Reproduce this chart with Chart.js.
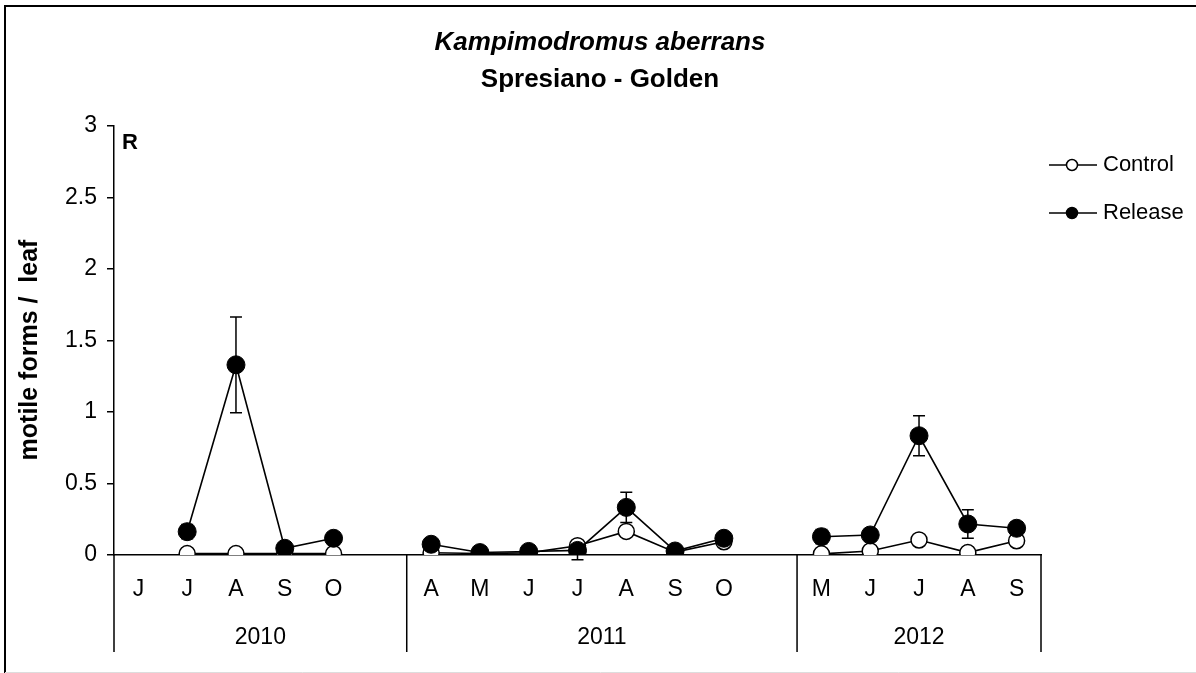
<!DOCTYPE html>
<html><head><meta charset="utf-8">
<script src="https://cdn.jsdelivr.net/npm/chart.js@4.4.0/dist/chart.umd.min.js"></script>
<style>html,body{margin:0;padding:0;background:#fff;}#wrap{width:1196px;height:673px;}</style>
</head><body><div id="wrap"><canvas id="c" width="1196" height="673"></canvas></div>
<script>
const monthLabels = ['J','J','A','S','O','','A','M','J','J','A','S','O','','M','J','J','A','S'];
const yearLabels = ['2010','2011','2012'];
const yearStart = [0, 6, 14];
const controlValues = [null,0.01,0.01,0.01,0.01,null,0.016,0.01,0.015,0.065,0.165,0.02,0.093,null,0.008,0.028,0.105,0.017,0.1];
const releaseValues = [null,0.163,1.33,0.047,0.117,null,0.075,0.017,0.025,0.032,0.333,0.028,0.117,null,0.128,0.14,0.834,0.217,0.187];
const controlErrors = [null,0,0,0,0,null,0,0,0,0,0,0,0,null,0,0,0,0,0];
const releaseErrors = [null,0.05,0.335,0,0,null,0,0,0,0.065,0.105,0,0,null,0.05,0,0.14,0.1,0.046];
const yTicks = [0,0.5,1,1.5,2,2.5,3];

const FONT = "'Liberation Sans', Arial, sans-serif";

const decor = {
  id: 'decor',
  beforeDatasetsDraw(chart) {
    const ctx = chart.ctx, ys = chart.scales.y;
    const errs = [releaseErrors, controlErrors];
    ctx.save();
    ctx.strokeStyle = '#000'; ctx.lineWidth = 1.5;
    chart.data.datasets.forEach((ds, i) => {
      const meta = chart.getDatasetMeta(i);
      const e = errs[i];
      ds.data.forEach((v, j) => {
        if (v == null || !e[j]) return;
        const x = meta.data[j].x;
        const yt = ys.getPixelForValue(v + e[j]);
        const yb = ys.getPixelForValue(v - e[j]);
        ctx.beginPath();
        ctx.moveTo(x, yt); ctx.lineTo(x, yb);
        ctx.moveTo(x - 6, yt); ctx.lineTo(x + 6, yt);
        ctx.moveTo(x - 6, yb); ctx.lineTo(x + 6, yb);
        ctx.stroke();
      });
    });
    ctx.restore();
  },
  afterDraw(chart) {
    const ctx = chart.ctx, xs = chart.scales.x, a = chart.chartArea;
    ctx.save();
    // frame
    ctx.strokeStyle = '#000'; ctx.lineWidth = 2;
    ctx.beginPath();
    ctx.moveTo(5, 673); ctx.lineTo(5, 6); ctx.lineTo(1196, 6);
    ctx.stroke();
    ctx.strokeStyle = '#ddd'; ctx.lineWidth = 1;
    ctx.beginPath(); ctx.moveTo(5, 672.5); ctx.lineTo(1196, 672.5); ctx.stroke();
    // group separators
    const bounds = [a.left];
    for (let k = 1; k < yearStart.length; k++) {
      bounds.push((xs.getPixelForValue(yearStart[k] - 1) + xs.getPixelForValue(yearStart[k])) / 2);
    }
    bounds.push(a.right);
    ctx.strokeStyle = '#000'; ctx.lineWidth = 1.5;
    ctx.beginPath();
    bounds.forEach(b => { ctx.moveTo(b, a.bottom); ctx.lineTo(b, 652); });
    ctx.stroke();
    ctx.fillStyle = '#000';
    ctx.textAlign = 'center'; ctx.textBaseline = 'middle';
    ctx.font = '23px ' + FONT;
    yearLabels.forEach((t, k) => ctx.fillText(t, (bounds[k] + bounds[k + 1]) / 2, 638));
    // titles
    ctx.font = 'italic bold 26px ' + FONT;
    ctx.fillText('Kampimodromus aberrans', 600, 43);
    ctx.font = 'bold 26px ' + FONT;
    ctx.fillText('Spresiano - Golden', 600, 80);
    // y title
    ctx.save();
    ctx.translate(30, 350); ctx.rotate(-Math.PI / 2);
    ctx.font = 'bold 25px ' + FONT;
    ctx.fillText('motile forms /  leaf', 0, 0);
    ctx.restore();
    // R
    ctx.textAlign = 'left';
    ctx.font = 'bold 22px ' + FONT;
    ctx.fillText('R', 122, 143);
    // legend
    const items = [
      {t: 'Control', y: 165, fill: '#fff'},
      {t: 'Release', y: 213, fill: '#000'}
    ];
    items.forEach(it => {
      ctx.strokeStyle = '#000'; ctx.lineWidth = 1.5;
      ctx.beginPath(); ctx.moveTo(1049, it.y); ctx.lineTo(1097, it.y); ctx.stroke();
      ctx.beginPath(); ctx.arc(1072, it.y, 5.5, 0, Math.PI * 2);
      ctx.fillStyle = it.fill; ctx.fill(); ctx.stroke();
      ctx.fillStyle = '#000';
      ctx.font = '22px ' + FONT;
      ctx.fillText(it.t, 1103, it.y);
    });
    ctx.restore();
  }
};

new Chart(document.getElementById('c').getContext('2d'), {
  type: 'line',
  data: {
    labels: monthLabels,
    datasets: [
      {label: 'Release', data: releaseValues, order: 0, borderColor: '#000', borderWidth: 1.6,
       pointRadius: 9, pointBackgroundColor: '#000', pointBorderColor: '#000', pointBorderWidth: 1,
       spanGaps: false, tension: 0},
      {label: 'Control', data: controlValues, order: 1, borderColor: '#000', borderWidth: 1.6,
       pointRadius: 8, pointBackgroundColor: '#fff', pointBorderColor: '#000', pointBorderWidth: 1.5,
       spanGaps: false, tension: 0}
    ]
  },
  options: {
    responsive: false, animation: false, devicePixelRatio: 1,
    layout: {padding: {left: 0, right: 155, top: 126, bottom: 0}},
    plugins: {legend: {display: false}, tooltip: {enabled: false}, title: {display: false}},
    scales: {
      x: {
        type: 'category', offset: true,
        grid: {display: false, drawTicks: false},
        border: {display: true, color: '#000', width: 1.5},
        ticks: {color: '#000', font: {family: FONT, size: 23}, padding: 21, autoSkip: false, maxRotation: 0},
        afterFit(s) { s.height = 118; }
      },
      y: {
        min: 0, max: 3,
        afterBuildTicks(s) { s.ticks = yTicks.map(v => ({value: v})); },
        grid: {drawOnChartArea: false, drawTicks: true, tickLength: 7, color: '#000', lineWidth: 1.5},
        border: {display: true, color: '#000', width: 1.5},
        ticks: {color: '#000', font: {family: FONT, size: 23}, padding: 10, callback: v => String(v)},
        afterFit(s) { s.width = 114; }
      }
    }
  },
  plugins: [decor]
});
</script>
</body></html>
